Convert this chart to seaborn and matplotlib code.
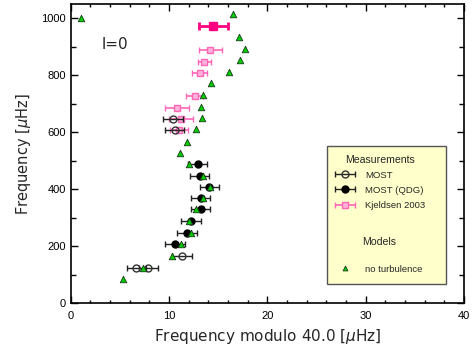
import matplotlib
matplotlib.use("Agg")
import matplotlib.pyplot as plt
import seaborn as sns
from matplotlib.lines import Line2D
from matplotlib.patches import Rectangle
from matplotlib.ticker import MultipleLocator
from matplotlib.legend_handler import HandlerErrorbar
from matplotlib.container import ErrorbarContainer

# ---- data ----
most_x = [10.4, 10.56, 11.3, 6.67, 7.9]
most_y = [646, 607, 165, 122, 122]
most_err = [1.0, 1.0, 1.0, 1.0, 1.0]

qdg_x = [12.9, 13.1, 14.1, 13.2, 13.2, 12.2, 11.8, 10.6]
qdg_y = [487, 448, 409, 369, 329, 288, 247, 206]
qdg_err = [0.95, 1.0, 1.0, 1.0, 1.0, 1.03, 1.0, 1.0]

kj_x = [14.2, 13.6, 13.1, 12.6, 10.8, 11.2, 11.0]
kj_y = [889, 848, 808, 726, 685, 647, 607]
kj_err = [1.2, 0.65, 0.8, 0.85, 1.2, 1.2, 0.95]

kj_hi_x = [14.5]
kj_hi_y = [973]
kj_hi_err = [1.5]

mod_x = [1.0, 16.5, 17.1, 17.7, 17.2, 16.1, 14.3, 13.5, 13.2, 13.3, 12.7, 11.8,
         11.1, 12.0, 13.4, 14.15, 13.4, 12.75, 12.0, 12.2, 11.2, 10.3, 7.35, 5.35]
mod_y = [1000, 1016, 936, 894, 854, 812, 772, 730, 689, 649, 611, 566,
         528, 487, 448, 409, 369, 329, 288, 247, 208, 165, 124, 83]

sns.set_style("ticks")
plt.rcParams['font.family'] = ['Liberation Sans', 'DejaVu Sans']

fig = plt.figure(figsize=(4.72, 3.46), dpi=100)
ax = fig.add_axes([0.150, 0.124, 0.833, 0.864])

PINK = '#ff66b8'
DPINK = '#ff0080'

# Kjeldsen 2003
h_kj = ax.errorbar(kj_x, kj_y, xerr=kj_err, fmt='s', ms=4.2, mfc='#ffb3da', mec=PINK,
                   mew=1.0, ecolor=PINK, elinewidth=1.2, capsize=2.2, capthick=1.2,
                   zorder=2)
ax.errorbar(kj_hi_x, kj_hi_y, xerr=kj_hi_err, fmt='s', ms=6, mfc=DPINK, mec=DPINK,
            ecolor=DPINK, elinewidth=2.0, capsize=3, capthick=2.0, zorder=2)

# MOST open
h_most = ax.errorbar(most_x, most_y, xerr=most_err, fmt='o', ms=5, mfc='none',
                     mec='#333333', mew=1.0, ecolor='#222222', elinewidth=1.0,
                     capsize=2.5, capthick=1.0, zorder=3)

# MOST (QDG) filled
h_qdg = ax.errorbar(qdg_x, qdg_y, xerr=qdg_err, fmt='o', ms=5, mfc='black',
                    mec='black', ecolor='#222222', elinewidth=1.0, capsize=2.5,
                    capthick=1.0, zorder=3)

# models
sns.scatterplot(x=mod_x, y=mod_y, marker='^', s=22, color='#00cc00',
                edgecolor='#1a3a1a', linewidth=0.6, ax=ax, zorder=4)

ax.set_xlim(0, 40)
ax.set_ylim(0, 1050)
ax.xaxis.set_major_locator(MultipleLocator(10))
ax.xaxis.set_minor_locator(MultipleLocator(2))
ax.yaxis.set_major_locator(MultipleLocator(200))
ax.yaxis.set_minor_locator(MultipleLocator(100))
ax.tick_params(which='both', direction='in', top=True, right=True,
               width=1.0, colors='black', labelsize=8)
ax.tick_params(which='major', length=5)
ax.tick_params(axis='x', which='minor', length=2.5)
ax.tick_params(axis='y', which='minor', length=3.5)
ax.tick_params(axis='x', pad=6)
for sp in ax.spines.values():
    sp.set_linewidth(1.2)
    sp.set_color('black')

ax.set_xlabel('Frequency modulo 40.0 [$\\mu$Hz]', fontsize=11, family='DejaVu Sans')
ax.set_ylabel('Frequency [$\\mu$Hz]', fontsize=10.5, family='DejaVu Sans', labelpad=6)

ax.text(3.1, 909, 'l=0', fontsize=11, va='center', ha='left', family='DejaVu Sans')

# legend box
ax.add_patch(Rectangle((0.651, 0.064), 0.303, 0.461, transform=ax.transAxes,
                       facecolor='#ffffcc', edgecolor='#555555', lw=1.0, zorder=5))

hmap = {ErrorbarContainer: HandlerErrorbar(xerr_size=1.05)}
leg1 = ax.legend([h_most, h_qdg, h_kj], ['MOST', 'MOST (QDG)', 'Kjeldsen 2003'],
                 title='Measurements', loc='upper left', bbox_to_anchor=(0.672, 0.497),
                 frameon=False, fontsize=6.8, title_fontsize=7.6, borderpad=0,
                 borderaxespad=0, handlelength=2.2, handletextpad=1.0, labelspacing=0.65,
                 handler_map=hmap)
leg1.set_zorder(6)
ax.add_artist(leg1)
h_mod = Line2D([], [], marker='^', ls='none', mfc='#00cc00', mec='#1a3a1a', ms=3.5, mew=0.6)
leg2 = ax.legend([h_mod], ['no turbulence'], title='Models', loc='upper left',
                 bbox_to_anchor=(0.672, 0.222), frameon=False, fontsize=6.8,
                 title_fontsize=7.6, borderpad=0, borderaxespad=0, handlelength=2.2,
                 handletextpad=1.0)
leg2.set_zorder(6)
leg2._legend_box.sep = 13

fig.savefig('out.png', dpi=100)
